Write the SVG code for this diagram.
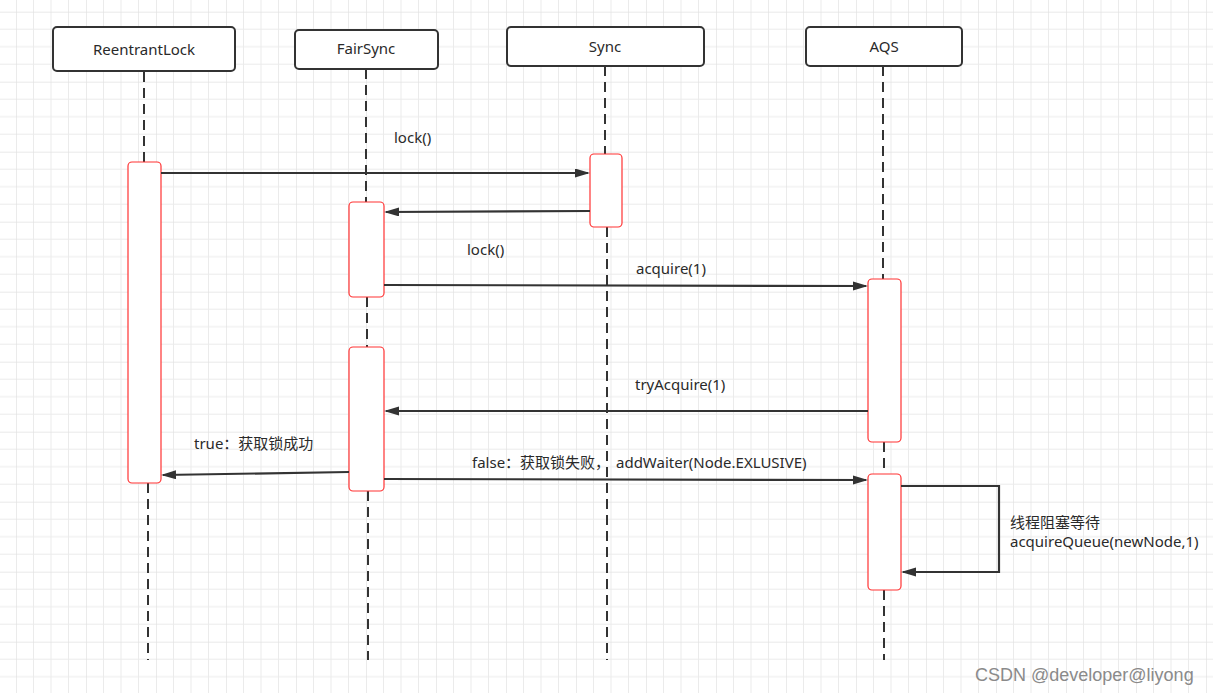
<svg xmlns="http://www.w3.org/2000/svg" width="1213" height="693" viewBox="0 0 1213 693">
<style>
  .hdr{fill:#fff;stroke:#333;stroke-width:2}
  .act{fill:#fff;stroke:#ff3333;stroke-width:1.2}
  .life{fill:none;stroke:#333;stroke-width:2;stroke-dasharray:10 6}
  .msg{fill:none;stroke:#333;stroke-width:2.2;marker-end:url(#ah)}
  text{font-family:"Noto Sans","Noto Sans CJK SC",sans-serif;font-size:15px;fill:#2a2a2a}
  .c{text-anchor:middle}
  .wm{font-family:"Liberation Sans",Arial,sans-serif;font-size:18px;fill:#8a8a8a}
</style>
<defs>
  <pattern id="grid" patternUnits="userSpaceOnUse" x="16" y="11.7" width="70" height="70">
    <path d="M17.5 0V70M35 0V70M52.5 0V70M0 17.5H70M0 35H70M0 52.5H70" stroke="#ebebeb" stroke-width="1" fill="none"/>
    <path d="M0 0V70M0 0H70" stroke="#e2e2e2" stroke-width="1.4" fill="none"/>
  </pattern>
  <marker id="ah" markerUnits="userSpaceOnUse" markerWidth="16" markerHeight="10" refX="13" refY="4.5" orient="auto">
    <path d="M0,0 L15,4.5 L0,9 z" fill="#333"/>
  </marker>
</defs>
<rect width="1213" height="693" fill="#fff"/>
<rect width="1213" height="693" fill="url(#grid)"/>

<g id="lifelines">
  <path class="life" d="M144 72V162M148 483V660"/>
  <path class="life" d="M366 69V202M367 297V347M368 491V660"/>
  <path class="life" d="M605 66V154M607 227V660"/>
  <path class="life" d="M883 66V279M884 442V474M884 590V660"/>
</g>

<g id="ReentrantLock">
  <rect class="hdr" x="53" y="27" width="182" height="44" rx="4"/>
  <text class="c" x="144" y="55">ReentrantLock</text>
</g>
<g id="FairSync">
  <rect class="hdr" x="295" y="30" width="143" height="39" rx="4"/>
  <text class="c" x="366" y="54">FairSync</text>
</g>
<g id="Sync">
  <rect class="hdr" x="507" y="27" width="197" height="39" rx="4"/>
  <text class="c" x="605" y="52">Sync</text>
</g>
<g id="AQS">
  <rect class="hdr" x="806" y="27" width="156" height="39" rx="4"/>
  <text class="c" x="884" y="52">AQS</text>
</g>

<g id="activations">
  <rect id="act-rl" class="act" x="128" y="162" width="33" height="321" rx="4"/>
  <rect id="act-sync" class="act" x="590" y="154" width="32" height="73" rx="4"/>
  <rect id="act-fs1" class="act" x="349" y="202" width="35" height="95" rx="4"/>
  <rect id="act-fs2" class="act" x="349" y="347" width="35" height="144" rx="4"/>
  <rect id="act-aqs1" class="act" x="868" y="279" width="33" height="163" rx="4"/>
  <rect id="act-aqs2" class="act" x="868" y="474" width="33" height="116" rx="4"/>
</g>

<g id="connectors">
  <path class="msg" d="M161 173H588"/>
  <path class="msg" d="M590 211L386 212"/>
  <path class="msg" d="M384 285L866 286"/>
  <path class="msg" d="M868 411H386"/>
  <path class="msg" d="M349 472L163 475"/>
  <path class="msg" d="M384 479L866 480"/>
  <path class="msg" d="M901 486H999V572H903"/>
</g>

<g id="labels">
  <text x="394" y="143">lock()</text>
  <text x="467" y="255">lock()</text>
  <text x="636" y="274">acquire(1)</text>
  <text x="635" y="390">tryAcquire(1)</text>
  <text x="194" y="449">true：获取锁成功</text>
  <text x="472" y="468">false：获取锁失败，<tspan x="616">addWaiter(Node.EXLUSIVE)</tspan></text>
  <text x="1010" y="528">线程阻塞等待</text>
  <text x="1010" y="547">acquireQueue(newNode,1)</text>
</g>

<text class="wm" x="975" y="681">CSDN @developer@liyong</text>
</svg>
